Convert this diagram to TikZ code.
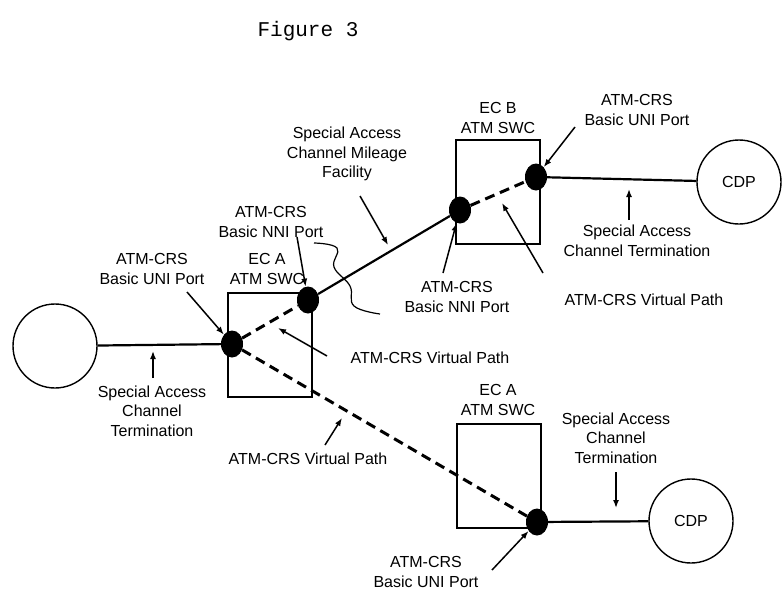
\documentclass[tikz,border=0pt]{standalone}
\usepackage{fontspec}
\setmainfont{Liberation Sans}
\newfontfamily\figfont{Liberation Mono}
\usetikzlibrary{arrows.meta,shapes.geometric}

\begin{document}
\begin{tikzpicture}[
  x=1pt, y=-1pt,
  font=\fontsize{16}{19.5}\selectfont,
  lbl/.style={align=center, inner sep=0pt},
  site/.style={
    draw, circle, minimum size=84pt, inner sep=0pt, line width=1.4pt,
  },
  swc/.style={
    draw, rectangle, minimum width=84pt, minimum height=104pt,
    inner sep=0pt, line width=1.3pt,
  },
  port/.style={
    ellipse, fill=black, minimum width=22pt, minimum height=27pt, inner sep=0pt,
  },
  link/.style={line width=2.2pt},
  vpath/.style={line width=3pt, dash pattern=on 10pt off 6pt},
  pointer/.style={-{Latex[length=8pt, width=6pt]}, line width=1.5pt},
]
\useasboundingbox (0,0) rectangle (784,613);

% ---- Title ---------------------------------------------------------------
\node[lbl, font=\figfont\fontsize{21}{25}\selectfont] (title) at (308,31) {Figure 3};

% ---- Switches and end sites ---------------------------------------------
\node[swc] (swcA)  at (270,345) {};
\node[swc] (swcB)  at (498,192) {};
\node[swc] (swcA2) at (499,476) {};

\node[site] (siteL) at (55,346) {};
\node[site] (cdpB)  at (739,182) {CDP};
\node[site] (cdpC)  at (691,521) {CDP};

% ---- Ports ---------------------------------------------------------------
\node[port] (uniA) at (232,344) {};
\node[port] (nniA) at (308,300) {};
\node[port] (nniB) at (460,210) {};
\node[port] (uniB) at (536,177) {};
\node[port] (uniC) at (537,522) {};

% ---- Links: terminations, mileage, virtual paths ------------------------
\draw[link] (siteL) -- (uniA);
\draw[link] (nniA) -- (nniB);
\draw[link] (uniB) -- (cdpB);
\draw[link] (uniC) -- (cdpC);
\draw[vpath] (uniA) -- (nniA);
\draw[vpath] (nniB) -- (uniB);
\draw[vpath] (uniA) -- (uniC);

% ---- Wavy break on the mileage facility ---------------------------------
\draw[line width=1.2pt] plot[smooth, tension=0.7] coordinates
  {(314,243) (337,248) (334,267) (350,286) (354,306) (380,314)};

% ---- Labels ----------------------------------------------------------------
\node[lbl] (lblUniA)  at (152,269) {ATM-CRS\\Basic UNI Port};
\node[lbl] (lblSwcA)  at (267,269) {EC A\\ATM SWC};
\node[lbl] (lblNniA)  at (271,222) {ATM-CRS\\Basic NNI Port};
\node[lbl] (lblMile)  at (347,154) {Special Access\\Channel Mileage\\Facility};
\node[lbl] (lblSwcB)  at (498,118) {EC B\\ATM SWC};
\node[lbl] (lblUniB)  at (637,110) {ATM-CRS\\Basic UNI Port};
\node[lbl] (lblNniB)  at (457,297) {ATM-CRS\\Basic NNI Port};
\node[lbl] (lblTermB) at (637,241) {Special Access\\Channel Termination};
\node[lbl] (lblVpB)   at (644,300) {ATM-CRS Virtual Path};
\node[lbl] (lblVpA)   at (430,358) {ATM-CRS Virtual Path};
\node[lbl] (lblTermA) at (152,411) {Special Access\\Channel\\Termination};
\node[lbl] (lblVpC)   at (308,459) {ATM-CRS Virtual Path};
\node[lbl] (lblSwcA2) at (498,400) {EC A\\ATM SWC};
\node[lbl] (lblTermC) at (616,438) {Special Access\\Channel\\Termination};
\node[lbl] (lblUniC)  at (426,572) {ATM-CRS\\Basic UNI Port};

% ---- Pointer ends ----------------------------------------------------------
\coordinate (tUniA)  at (187,292);
\coordinate (tNniA)  at (297,237);
\coordinate (tMile)  at (360,196);
\coordinate (hMile)  at (388,245);
\coordinate (tNniB)  at (443,273);
\coordinate (tUniB)  at (575,127);
\coordinate (tTermB) at (629,220);
\coordinate (hTermB) at (629,189);
\coordinate (tVpB)   at (543,273);
\coordinate (hVpB)   at (502,203);
\coordinate (tVpA)   at (327,356);
\coordinate (hVpA)   at (278,328);
\coordinate (tTermA) at (153,378);
\coordinate (hTermA) at (153,351);
\coordinate (tVpC)   at (325,445);
\coordinate (hVpC)   at (342,418);
\coordinate (tTermC) at (616,472);
\coordinate (hTermC) at (616,508);
\coordinate (tUniC)  at (492,570);

% ---- Pointers ----------------------------------------------------------------
\draw[pointer] (tUniA) -- (uniA);
\draw[pointer] (tNniA) -- (nniA);
\draw[pointer] (tMile) -- (hMile);
\draw[pointer] (tNniB) -- (nniB);
\draw[pointer] (tUniB) -- (uniB);
\draw[pointer] (tTermB) -- (hTermB);
\draw[pointer] (tVpB) -- (hVpB);
\draw[pointer] (tVpA) -- (hVpA);
\draw[pointer] (tTermA) -- (hTermA);
\draw[pointer] (tVpC) -- (hVpC);
\draw[pointer] (tTermC) -- (hTermC);
\draw[pointer] (tUniC) -- (uniC);

\end{tikzpicture}
\end{document}
